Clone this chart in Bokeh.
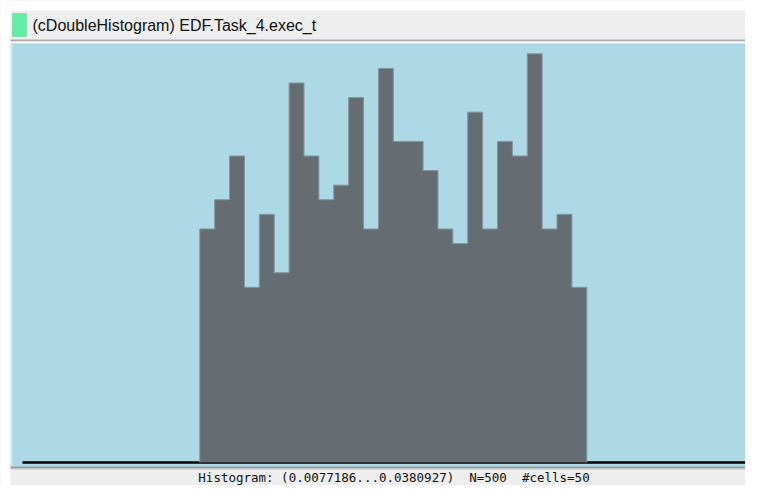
from bokeh.plotting import figure
from bokeh.models import Range1d, Label, BoxAnnotation
from bokeh.embed import file_html
from bokeh.resources import INLINE

# ---- data ----
title_text = "(cDoubleHistogram) EDF.Task_4.exec_t"
range_lo = 0.0077186
range_hi = 0.0380927
n_total = 500
n_cells = 50
counts = [16, 18, 21, 12, 17, 13, 26, 21, 18, 19, 25, 16, 27,
          22, 22, 20, 16, 15, 24, 16, 22, 21, 28, 16, 17, 12]
# (no-break space keeps the double spacing in the SVG text)
footer_text = "Histogram: (0.0077186...0.0380927)\u00a0 N=500\u00a0 #cells=50"

# bin edges spanning the histogram range
nb = len(counts)
bw = (range_hi - range_lo) / nb
edges = [range_lo + i * bw for i in range(nb + 1)]

# ---- layout (canvas pixels, y from top) ----
W, H = 745, 485
px_lo, px_hi = 199.3, 586.3          # histogram range on screen
base_px = 462.0                      # zero count
top_px = 53.3                        # top of the tallest bar
sx = (range_hi - range_lo) / (px_hi - px_lo)
ppc = (base_px - top_px) / max(counts)

x0 = range_lo - px_lo * sx
x1 = range_lo + (W - px_lo) * sx
y0 = -(H - base_px) / ppc
y1 = base_px / ppc
line_start = range_lo - (px_lo - 22) * sx

p = figure(width=W, height=H, output_backend="svg", toolbar_location=None,
           x_range=Range1d(x0, x1), y_range=Range1d(y0, y1),
           x_axis_location=None, y_axis_location=None,
           min_border=0)
p.title.visible = False
p.grid.visible = False
p.background_fill_color = "#EEEEEE"
p.border_fill_color = "#EEEEEE"
p.outline_line_color = None


def band(x_a, x_b, y_top, y_bot, color, level="underlay", line_color=None):
    """Screen-space box given in canvas pixels (y measured from the top)."""
    b = BoxAnnotation(left=x_a, right=x_b, top=H - y_top, bottom=H - y_bot,
                      left_units="screen", right_units="screen",
                      top_units="screen", bottom_units="screen",
                      fill_color=color, fill_alpha=1, line_color=line_color,
                      level=level)
    p.add_layout(b)


# window chrome
band(0, W, 0, 10, "#FFFFFF")
band(0, 10, 0, H, "#FFFFFF")
band(10, W, 39, 41, "#A9A9A9")
band(10, W, 41, 43, "#FAFAFA")
band(10, 12, 43, 466, "#C9E4EC")
band(12, W, 43, 466, "#ADD8E6")
band(10, W, 466, 468, "#879BA4")
band(10, W, 468, 469, "#C4C4C4")
band(12, 26, 13, 36, "#5EEFA2", level="annotation", line_color="#41B57A")

bar_color = "#656C72"

# baseline
p.line([line_start, x1 + 1], [0, 0], line_color="black", line_width=2.4)

# bars as one stepped area (no seams between cells)
area_y = counts + [counts[-1]]
p.varea_step(x=edges, y1=[0] * len(edges), y2=area_y, step_mode="after",
             fill_color=bar_color)

# lighter silhouette outline
step_x = [edges[0]] + edges
step_y = [0] + counts + [0]
p.step(step_x, step_y, mode="after", line_color="#8494A0", line_width=1)

p.add_layout(Label(x=32, y=H - 24.5, x_units="screen", y_units="screen",
                   text=title_text, text_font="Liberation Sans",
                   text_font_size="16px", text_color="#111111",
                   text_baseline="middle", text_align="left"))
p.add_layout(Label(x=393.5, y=H - 476.5, x_units="screen", y_units="screen",
                   text=footer_text, text_font="DejaVu Sans Mono",
                   text_font_size="12.5px", text_color="#111111",
                   text_baseline="middle", text_align="center"))

open("out.html", "w").write(file_html(p, INLINE))
